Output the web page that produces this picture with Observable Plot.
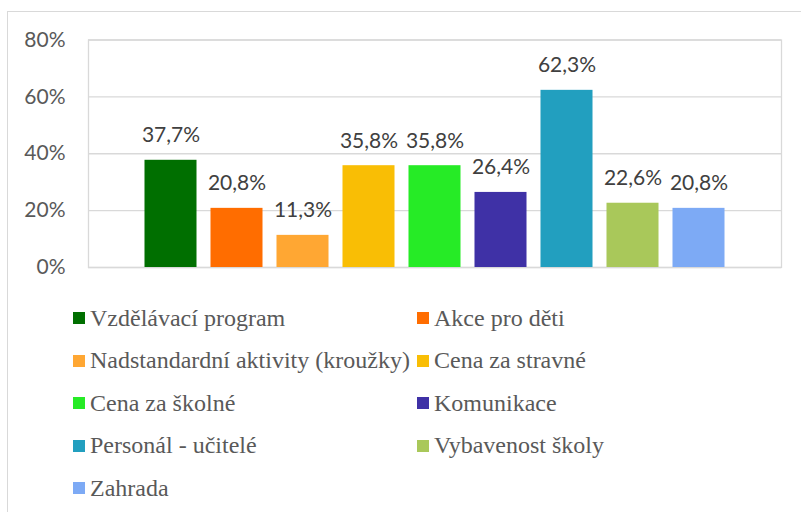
<!DOCTYPE html>
<html><head><meta charset="utf-8">
<script src="https://cdn.jsdelivr.net/npm/d3@7"></script>
<script src="https://cdn.jsdelivr.net/npm/@observablehq/plot@0.6"></script>
<style>
html,body{margin:0;padding:0;background:#fff;}
body{width:801px;height:512px;overflow:hidden;position:relative;}
#chart{position:absolute;left:0;top:0;}
#frame{position:absolute;left:7px;top:11px;width:820px;height:520px;border-left:1px solid #d9d9d9;border-top:1px solid #d9d9d9;box-sizing:border-box;pointer-events:none;z-index:2;}
#legend{position:absolute;left:73px;top:296.75px;display:grid;grid-template-columns:344px 344px;grid-auto-rows:42.5px;color:#595959;}
#legend .item{display:flex;align-items:center;white-space:nowrap;font-family:'Liberation Serif',serif;font-size:24px;}
#legend .sw{width:12px;height:12px;margin-right:5px;flex:none;}
</style></head><body>
<div id="chart"></div>
<div id="legend"></div>
<div id="frame"></div>
<script>
const categories = ["Vzdělávací program","Akce pro děti","Nadstandardní aktivity (kroužky)","Cena za stravné","Cena za školné","Komunikace","Personál - učitelé","Vybavenost školy","Zahrada"];
const values = [37.7,20.8,11.3,35.8,35.8,26.4,62.3,22.6,20.8];
const colors = ["#006f00","#ff6d00","#ffa733","#f9be05","#26eb26","#3f31a6","#229fbf","#a9c85a","#7daaf5"];
const yTicks = [0,20,40,60,80];

const data = categories.map((c,i)=>({category:c, value:values[i]}));
const fmt = v => v.toFixed(1).replace(".", ",") + "%";

const chart = Plot.plot({
  width: 801, height: 290,
  marginTop: 39.5, marginBottom: 23, marginLeft: 88, marginRight: 20,
  style: {fontFamily: "Lato, sans-serif", fontSize: "21px", color: "#595959", background: "transparent"},
  x: {domain: categories, axis: null, paddingInner: 0.212, paddingOuter: 0.856, round: false},
  y: {domain: [0, 80], axis: null},
  color: {domain: categories, range: colors},
  marks: [
    Plot.gridY(yTicks, {stroke: "#d9d9d9", strokeOpacity: 1, strokeWidth: 1.3}),
    Plot.frame({stroke: "#d9d9d9", strokeWidth: 1.3}),
    Plot.barY(data, {x: "category", y: "value", fill: "category"}),
    Plot.text(data, {x: "category", y: "value", text: d => fmt(d.value), lineAnchor: "bottom", dy: -18, fill: "#404040", fontSize: 21}),
    Plot.axisY(yTicks, {label: null, tickSize: 0, tickPadding: 23, tickFormat: d => d + "%", fill: "#595959", fontSize: 21})
  ]
});
document.getElementById("chart").appendChild(chart);

const legend = d3.select("#legend");
const items = legend.selectAll(".item").data(categories).join("div").attr("class", "item");
items.append("span").attr("class", "sw").style("background", (d,i) => colors[i]);
items.append("span").attr("class", "lt").text(d => d);
</script>
</body></html>
